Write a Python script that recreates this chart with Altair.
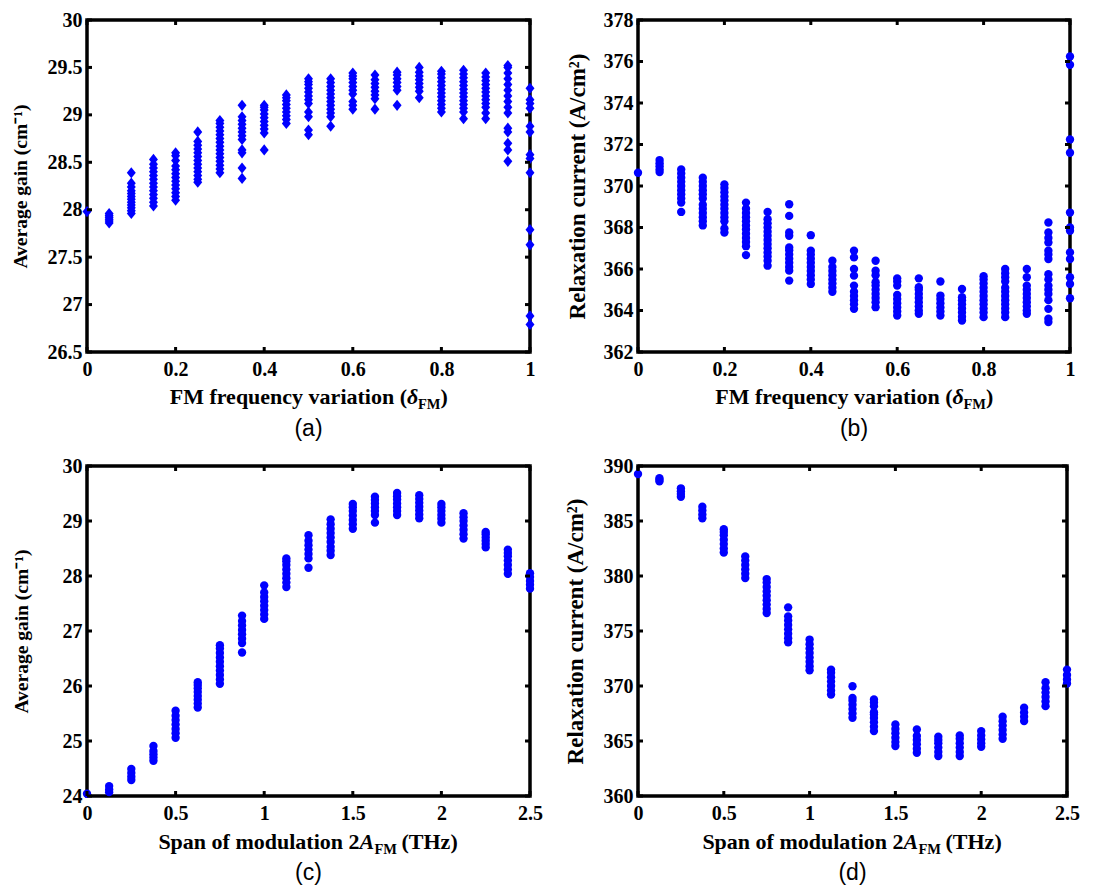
import altair as alt
import pandas as pd

BLUE = "#0000FF"
SERIF = "Liberation Serif, Times New Roman, serif"
SANS = "Liberation Sans, Arial, sans-serif"

# ---------------- panel (a): average gain vs FM frequency variation ----------------
a_x = [0, 0.05, 0.1, 0.15, 0.2, 0.25, 0.3, 0.35, 0.4, 0.45, 0.5,
       0.55, 0.6, 0.65, 0.7, 0.75, 0.8, 0.85, 0.9, 0.95, 1.0]
a_y = [
    [27.98],
    [27.86, 27.88, 27.90, 27.92, 27.94, 27.96],
    [27.96, 27.99, 28.02, 28.05, 28.08, 28.11, 28.14, 28.17, 28.20, 28.24, 28.28, 28.39],
    [28.04, 28.08, 28.12, 28.16, 28.20, 28.24, 28.28, 28.32, 28.36, 28.40, 28.44, 28.48, 28.53],
    [28.10, 28.14, 28.18, 28.22, 28.26, 28.30, 28.34, 28.38, 28.42, 28.46, 28.52, 28.57, 28.60],
    [28.29, 28.32, 28.36, 28.40, 28.44, 28.48, 28.52, 28.56, 28.60, 28.64, 28.68, 28.72, 28.82],
    [28.39, 28.43, 28.47, 28.51, 28.55, 28.59, 28.63, 28.67, 28.71, 28.75, 28.79, 28.83, 28.87, 28.91, 28.94],
    [28.33, 28.44, 28.60, 28.63, 28.74, 28.78, 28.82, 28.86, 28.90, 28.94, 28.98, 29.10],
    [28.63, 28.81, 28.85, 28.89, 28.93, 28.97, 29.01, 29.05, 29.08, 29.10],
    [28.91, 28.95, 28.99, 29.03, 29.07, 29.11, 29.15, 29.18, 29.21],
    [28.79, 28.84, 28.98, 29.03, 29.12, 29.16, 29.20, 29.24, 29.28, 29.32, 29.35, 29.38],
    [28.88, 28.98, 29.02, 29.06, 29.10, 29.14, 29.18, 29.22, 29.26, 29.30, 29.34, 29.38],
    [29.06, 29.10, 29.14, 29.22, 29.26, 29.30, 29.34, 29.38, 29.41, 29.44],
    [29.06, 29.17, 29.21, 29.25, 29.29, 29.33, 29.37, 29.42],
    [29.10, 29.26, 29.30, 29.34, 29.38, 29.42, 29.45],
    [29.18, 29.25, 29.29, 29.33, 29.37, 29.41, 29.45, 29.50],
    [29.03, 29.07, 29.11, 29.15, 29.19, 29.23, 29.27, 29.31, 29.35, 29.39, 29.43, 29.46],
    [28.96, 29.03, 29.07, 29.11, 29.15, 29.19, 29.23, 29.27, 29.31, 29.35, 29.39, 29.43, 29.47],
    [28.96, 29.02, 29.08, 29.12, 29.16, 29.20, 29.24, 29.28, 29.32, 29.36, 29.40, 29.44],
    [28.51, 28.63, 28.70, 28.82, 28.86, 29.02, 29.08, 29.14, 29.20, 29.26, 29.32, 29.38, 29.44, 29.50, 29.52],
    [26.79, 26.88, 27.63, 27.79, 28.39, 28.54, 28.58, 28.82, 28.88, 29.07, 29.12, 29.16, 29.28],
]
a_xticks = [0, 0.2, 0.4, 0.6, 0.8, 1]
a_yticks = [26.5, 27, 27.5, 28, 28.5, 29, 29.5, 30]

# ---------------- panel (b): relaxation current vs FM frequency variation ----------------
b_x = a_x
b_y = [
    [370.64],
    [370.67, 370.80, 370.95, 371.10, 371.25],
    [368.75, 369.2, 369.4, 369.6, 369.8, 370.0, 370.2, 370.4, 370.6, 370.8],
    [368.1, 368.3, 368.5, 368.7, 368.9, 369.1, 369.4, 369.6, 369.8, 370.0, 370.2, 370.4],
    [367.76, 367.95, 368.3, 368.5, 368.7, 368.9, 369.1, 369.3, 369.5, 369.7, 369.9, 370.08],
    [366.67, 367.1, 367.3, 367.5, 367.7, 367.9, 368.1, 368.3, 368.5, 368.7, 368.9, 369.2],
    [366.16, 366.4, 366.6, 366.8, 367.0, 367.2, 367.4, 367.6, 367.8, 368.0, 368.2, 368.4, 368.75],
    [365.44, 365.92, 366.1, 366.3, 366.5, 366.7, 366.9, 367.04, 367.6, 367.76, 368.56, 369.12],
    [365.28, 365.5, 365.7, 365.9, 366.1, 366.3, 366.5, 366.7, 366.88, 367.63],
    [364.9, 365.1, 365.3, 365.5, 365.7, 365.9, 366.1, 366.4],
    [364.08, 364.3, 364.5, 364.7, 364.9, 365.2, 365.68, 366.0, 366.56, 366.88],
    [364.16, 364.4, 364.6, 364.8, 365.0, 365.2, 365.36, 365.7, 365.92, 366.4],
    [363.76, 363.95, 364.15, 364.35, 364.55, 364.75, 365.2, 365.4, 365.55],
    [363.84, 364.0, 364.2, 364.4, 364.6, 364.8, 365.0, 365.12, 365.55],
    [363.76, 363.95, 364.15, 364.35, 364.55, 364.72, 365.4],
    [363.52, 363.7, 363.9, 364.1, 364.3, 364.5, 364.64, 365.04],
    [363.68, 363.9, 364.1, 364.3, 364.5, 364.7, 364.9, 365.1, 365.3, 365.5, 365.65],
    [363.68, 363.9, 364.1, 364.3, 364.5, 364.7, 364.9, 365.1, 365.4, 365.6, 365.8, 366.0],
    [363.84, 364.0, 364.2, 364.4, 364.6, 364.8, 365.0, 365.2, 365.6, 366.0],
    [363.44, 363.6, 364.08, 364.5, 364.8, 365.0, 365.2, 365.5, 365.75, 366.48, 366.7, 366.88, 367.28, 367.5, 367.76, 368.24],
    [364.59, 365.28, 365.6, 366.48, 366.8, 367.84, 368.0, 368.72, 371.6, 372.24, 375.84, 376.24],
]
b_xticks = a_xticks
b_yticks = [362, 364, 366, 368, 370, 372, 374, 376, 378]

# ---------------- panel (c): average gain vs span of modulation ----------------
c_x = [0, 0.125, 0.25, 0.375, 0.5, 0.625, 0.75, 0.875, 1.0, 1.125, 1.25,
       1.375, 1.5, 1.625, 1.75, 1.875, 2.0, 2.125, 2.25, 2.375, 2.5]
c_y = [
    [24.04],
    [24.07, 24.12, 24.18],
    [24.29, 24.35, 24.42, 24.49],
    [24.64, 24.70, 24.76, 24.82, 24.91],
    [25.06, 25.14, 25.22, 25.30, 25.38, 25.46, 25.55],
    [25.61, 25.68, 25.75, 25.82, 25.89, 25.96, 26.02, 26.07],
    [26.04, 26.12, 26.20, 26.28, 26.36, 26.44, 26.52, 26.60, 26.68, 26.74],
    [26.61, 26.78, 26.86, 26.94, 27.02, 27.10, 27.18, 27.28],
    [27.22, 27.30, 27.38, 27.46, 27.54, 27.62, 27.70, 27.83],
    [27.80, 27.88, 27.96, 28.04, 28.12, 28.20, 28.27, 28.32],
    [28.15, 28.32, 28.40, 28.48, 28.56, 28.64, 28.74],
    [28.38, 28.46, 28.53, 28.62, 28.70, 28.78, 28.86, 28.94, 29.03],
    [28.86, 28.94, 29.02, 29.10, 29.18, 29.25, 29.31],
    [28.97, 29.11, 29.18, 29.25, 29.32, 29.38, 29.44],
    [29.11, 29.18, 29.25, 29.32, 29.39, 29.45, 29.51],
    [29.05, 29.12, 29.19, 29.26, 29.33, 29.40, 29.47],
    [28.97, 29.04, 29.11, 29.18, 29.25, 29.31],
    [28.68, 28.76, 28.84, 28.92, 29.00, 29.07, 29.14],
    [28.52, 28.58, 28.64, 28.70, 28.76, 28.80],
    [28.04, 28.12, 28.20, 28.28, 28.36, 28.42, 28.48],
    [27.77, 27.84, 27.91, 27.98, 28.05],
]
c_xticks = [0, 0.5, 1, 1.5, 2, 2.5]
c_yticks = [24, 25, 26, 27, 28, 29, 30]

# ---------------- panel (d): relaxation current vs span of modulation ----------------
d_x = c_x
d_y = [
    [389.27],
    [388.6, 388.75, 388.9],
    [387.2, 387.45, 387.7, 387.97],
    [385.25, 385.6, 385.95, 386.3],
    [382.14, 382.5, 382.9, 383.3, 383.7, 384.0, 384.25],
    [379.81, 380.2, 380.6, 381.0, 381.4, 381.77],
    [376.63, 377.0, 377.4, 377.8, 378.2, 378.6, 379.0, 379.4, 379.72],
    [373.97, 374.35, 374.75, 375.15, 375.55, 375.95, 376.33, 377.15],
    [371.43, 371.8, 372.2, 372.6, 373.0, 373.4, 373.8, 374.22],
    [369.23, 369.6, 370.0, 370.4, 370.8, 371.2, 371.49],
    [367.11, 367.5, 367.9, 368.3, 368.65, 368.92, 369.98],
    [365.9, 366.3, 366.7, 367.1, 367.4, 367.62, 368.17, 368.5, 368.77],
    [364.54, 364.9, 365.3, 365.7, 366.1, 366.5],
    [363.93, 364.3, 364.7, 365.1, 365.45, 366.05],
    [363.63, 364.0, 364.4, 364.8, 365.1, 365.39],
    [363.63, 364.0, 364.4, 364.8, 365.2, 365.51],
    [364.48, 364.8, 365.15, 365.5, 365.9],
    [365.2, 365.6, 366.0, 366.4, 366.8, 367.2],
    [366.81, 367.2, 367.6, 368.02],
    [368.17, 368.6, 369.0, 369.4, 369.8, 370.34],
    [370.22, 370.6, 371.0, 371.49],
]
d_xticks = c_xticks
d_yticks = [360, 365, 370, 375, 380, 385, 390]

DIAMOND = "M0,-1L0.8,0L0,1L-0.8,0Z"


def to_frame(xs, ys):
    rows = [{"x": x, "y": y} for x, col in zip(xs, ys) for y in col]
    return pd.DataFrame(rows)


def text_layer(text, x, y, size, font=SERIF, weight="bold", style="normal",
               align="left", baseline="alphabetic"):
    return alt.Chart(pd.DataFrame({"k": [0]})).mark_text(
        text=text, font=font, fontWeight=weight, fontStyle=style, fontSize=size,
        align=align, baseline=baseline, color="black"
    ).encode(x=alt.value(x), y=alt.value(y))


def panel(xs, ys, xdom, ydom, xticks, yticks, shape, size, ytitle, ytsize, ytx,
          title_layers, label, W, H):
    df = to_frame(xs, ys)
    xscale = alt.Scale(domain=xdom, nice=False, zero=False)
    yscale = alt.Scale(domain=ydom, nice=False, zero=False)
    xaxis = alt.Axis(values=xticks, format="~g", title=None, labelFlush=False,
                     labelOverlap=False, labelPadding=7)
    yaxis = alt.Axis(values=yticks, format="~g", title=ytitle, labelPadding=5,
                     labelOverlap=False, titleX=ytx, titleY=H / 2, titleAngle=270,
                     titleAlign="center", titleBaseline="middle", titleFontSize=ytsize)
    X = alt.X("x:Q", scale=xscale, axis=xaxis)
    Y = alt.Y("y:Q", scale=yscale, axis=yaxis)
    pts = alt.Chart(df).mark_point(
        filled=True, shape=shape, size=size, color=BLUE, opacity=1, strokeWidth=0
    ).encode(x=X, y=Y)
    xt = pd.DataFrame({"x": xticks})
    yt = pd.DataFrame({"y": yticks})
    tk = dict(color="black", strokeWidth=3)
    t_bot = alt.Chart(xt).mark_rule(**tk).encode(x=X, y=alt.value(H - 5), y2=alt.value(H))
    t_top = alt.Chart(xt).mark_rule(**tk).encode(x=X, y=alt.value(0), y2=alt.value(5))
    t_lef = alt.Chart(yt).mark_rule(**tk).encode(y=Y, x=alt.value(0), x2=alt.value(5))
    t_rig = alt.Chart(yt).mark_rule(**tk).encode(y=Y, x=alt.value(W - 5), x2=alt.value(W))
    lab = text_layer(label, W / 2, H + 77, 23, font=SANS, weight="normal",
                     align="center", baseline="middle")
    return alt.layer(pts, t_bot, t_top, t_lef, t_rig, lab, *title_layers).properties(
        width=W, height=H)


def fm_title(W, H):
    cx = W / 2
    yb = H + 52
    return [
        text_layer("FM frequency variation (", cx + 98.5, yb, 22, align="right"),
        text_layer("δ", cx + 98.5, yb, 22, style="italic"),
        text_layer("FM", cx + 109.5, yb + 5, 14.5),
        text_layer(")", cx + 132, yb, 22),
    ]


def span_title(W, H):
    cx = W / 2
    yb = H + 53
    return [
        text_layer("Span of modulation 2", cx + 51, yb, 22, align="right"),
        text_layer("A", cx + 51, yb, 22, style="italic"),
        text_layer("FM", cx + 66, yb + 5, 14.5),
        text_layer("(THz)", cx + 93, yb, 22),
    ]


WA, HA = 443, 332
WB, HB = 432, 332
WC, HC = 443, 330
WD, HD = 429, 330

pa = panel(a_x, a_y, [0, 1], [26.5, 30], a_xticks, a_yticks, DIAMOND, 125,
           "Average gain (cm⁻¹)", 19.5, -67, fm_title(WA, HA), "(a)", WA, HA)
pb = panel(b_x, b_y, [0, 1], [362, 378], b_xticks, b_yticks, "circle", 70,
           "Relaxation current (A/cm²)", 23, -61, fm_title(WB, HB), "(b)", WB, HB)
pc = panel(c_x, c_y, [0, 2.5], [24, 30], c_xticks, c_yticks, "circle", 70,
           "Average gain (cm⁻¹)", 19.5, -66, span_title(WC, HC), "(c)", WC, HC)
pd_ = panel(d_x, d_y, [0, 2.5], [360, 390], d_xticks, d_yticks, "circle", 70,
            "Relaxation current (A/cm²)", 23, -63, span_title(WD, HD), "(d)", WD, HD)

chart = alt.concat(
    pa, pb, pc, pd_, columns=2, spacing={"row": 114, "column": 108}, bounds="flush"
).configure_view(
    stroke="black", strokeWidth=3.5
).configure_axis(
    grid=False, ticks=False, domain=False,
    labelFont=SERIF, labelFontWeight="bold", labelFontSize=20, labelColor="black",
    titleFont=SERIF, titleFontWeight="bold", titleColor="black"
).properties(
    background="white", padding={"left": 0, "top": 0, "right": 5, "bottom": 5}
)

chart.save("out.html", embed_options={"renderer": "svg", "actions": False})
